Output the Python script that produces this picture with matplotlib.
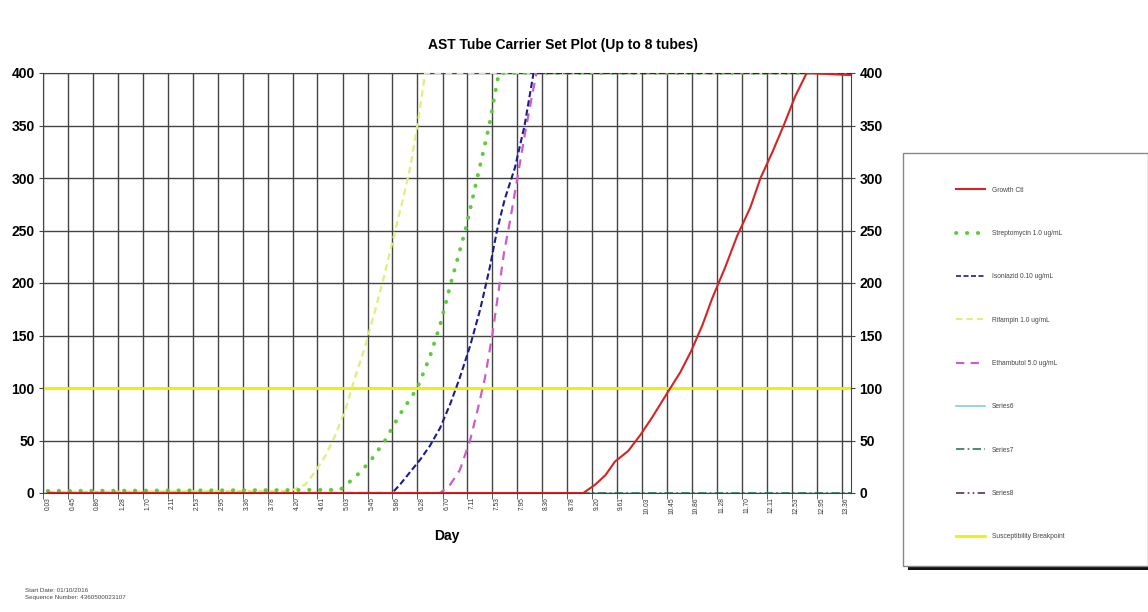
import matplotlib.pyplot as plt
from matplotlib.lines import Line2D
from matplotlib.patches import Rectangle

plt.rcParams['font.family'] = ['Liberation Sans', 'DejaVu Sans']

# x tick labels (days, every 10 hours)
tick_labels = ['0.03', '0.45', '0.86', '1.28', '1.70', '2.11', '2.53', '2.95', '3.36',
               '3.78', '4.20', '4.61', '5.03', '5.45', '5.86', '6.28', '6.70', '7.11',
               '7.53', '7.95', '8.36', '8.78', '9.20', '9.61', '10.03', '10.45', '10.86',
               '11.28', '11.70', '12.11', '12.53', '12.95', '13.36']
tick_vals = [float(s) for s in tick_labels]

# Growth Ctl
gc_day = [0.03, 8.97, 9.17, 9.34, 9.50, 9.72, 9.92, 10.12, 10.37, 10.59, 10.77, 10.96,
          11.12, 11.34, 11.54, 11.76, 11.93, 12.13, 12.33, 12.51, 12.70, 13.44]
gc_val = [0, 0, 8, 17, 30, 40, 55, 72, 95, 115, 135, 160,
          185, 215, 245, 272, 300, 325, 352, 378, 400, 398]

# Streptomycin 1.0 ug/mL
sm_day = [0.03, 4.91, 5.16, 5.41, 5.66, 5.91, 6.20, 6.41, 6.58, 6.76, 7.00, 7.20, 7.40, 7.56, 13.44]
sm_val = [2, 3, 15, 30, 50, 75, 100, 130, 160, 200, 250, 300, 350, 400, 400]

# Isoniazid 0.10 ug/mL
inh_day = [0.03, 5.78, 5.91, 6.08, 6.25, 6.41, 6.58, 6.75, 6.91, 7.08, 7.25, 7.41,
           7.53, 7.66, 7.83, 7.99, 8.14, 13.44]
inh_val = [0, 0, 8, 20, 32, 45, 62, 85, 110, 140, 175, 215,
           250, 280, 310, 350, 400, 400]

# Rifampin 1.0 ug/mL
rif_day = [0.03, 4.08, 4.33, 4.49, 4.66, 4.83, 5.00, 5.16, 5.33, 5.50, 5.66, 5.83,
           5.96, 6.08, 6.20, 6.33, 13.44]
rif_val = [1, 2, 8, 20, 35, 55, 80, 110, 140, 175, 210, 250,
           280, 310, 350, 400, 400]

# Ethambutol 5.0 ug/mL
emb_day = [0.03, 6.58, 6.75, 6.91, 7.08, 7.21, 7.33, 7.45, 7.55, 7.65, 7.75, 7.87,
           7.99, 8.12, 8.19, 13.44]
emb_val = [0, 0, 8, 22, 50, 80, 110, 150, 190, 230, 260, 300,
           340, 380, 400, 400]

# Series7 (flat)
s7_day = [0.03, 13.44]
s7_val = [0, 0]

breakpoint_val = 100

fig = plt.figure(figsize=(11.48, 6.12), dpi=100)
ax = fig.add_axes([43/1148, 1-493/612, 808/1148, 420/612])

ax.plot(s7_day, s7_val, color='#2a7a5a', lw=1.2, ls=(0, (5, 2, 1, 2)), zorder=2)
ax.axhline(breakpoint_val, color='#f0f000', lw=2, zorder=2)
ax.plot(rif_day, rif_val, color='#dcf07a', lw=1.6, ls=(0, (3, 2)), zorder=3)
ax.plot(sm_day, sm_val, color='#5ccc3a', lw=2.8, ls=(0, (0.1, 2.7)),
        dash_capstyle='round', zorder=3)
ax.plot(emb_day, emb_val, color='#cc5ccc', lw=1.6, ls=(0, (4, 3)), zorder=3)
ax.plot(inh_day, inh_val, color='#1c1c90', lw=1.5, ls=(0, (3, 1.5)), zorder=4)
ax.plot(gc_day, gc_val, color='#d42424', lw=1.5, zorder=5)

ax.set_xlim(-0.05, 13.44)
ax.set_ylim(0, 400)

ax.set_xticks(tick_vals)
ax.set_xticklabels(tick_labels, rotation=90, fontsize=4.8, color='#333333')
ax.set_xticks([v - 0.078 for v in tick_vals], minor=True)
ax.tick_params(axis='x', which='major', length=0, pad=3)
ax.tick_params(axis='x', which='minor', length=4, direction='out', color='#444444')
ax.grid(which='minor', axis='x', color='#444444', lw=1)

ax.set_yticks(range(0, 401, 50))
ax.grid(which='major', axis='y', color='#444444', lw=1)
ax.tick_params(axis='y', length=3, labelsize=10, right=True, labelright=True, pad=3,
               color='#444444')
for t in ax.yaxis.get_major_ticks():
    t.label1.set_fontweight('bold')
    t.label2.set_fontweight('bold')
ax.set_axisbelow(True)
for sp in ax.spines.values():
    sp.set_color('#444444')

ax.set_xlabel('Day', fontsize=10, fontweight='bold', labelpad=11)
fig.text(563/1148, 1-45/612, 'AST Tube Carrier Set Plot (Up to 8 tubes)',
         ha='center', va='center', fontsize=10, fontweight='bold')

fig.text(25/1148, 1-590/612, 'Start Date: 01/10/2016', fontsize=4.5, color='#444444', va='center')
fig.text(25/1148, 1-597/612, 'Sequence Number: 4360500023107', fontsize=4.5, color='#444444', va='center')

# legend box
shadow = Rectangle((908/1148, 1-570/612), (1148-908)/1148, (570-160)/612,
                   transform=fig.transFigure, facecolor='#111111', edgecolor='none', zorder=0)
box = Rectangle((903/1148, 1-566/612), (1148-903)/1148, (566-153)/612,
                transform=fig.transFigure, facecolor='white', edgecolor='#888888', lw=1, zorder=1)
fig.patches.extend([shadow, box])

handles = [
    Line2D([], [], color='#d42424', lw=1.5),
    Line2D([], [], color='#5ccc3a', lw=2.8, ls=(0, (0.1, 2.7)), dash_capstyle='round'),
    Line2D([], [], color='#1c1c90', lw=1.2, ls=(0, (3, 1.5))),
    Line2D([], [], color='#dcf07a', lw=1.5, ls=(0, (3, 2))),
    Line2D([], [], color='#cc5ccc', lw=1.5, ls=(0, (4, 3))),
    Line2D([], [], color='#7ccfe8', lw=1.2),
    Line2D([], [], color='#2a7a5a', lw=1.2, ls=(0, (5, 2, 1, 2))),
    Line2D([], [], color='#553355', lw=1.2, ls=(0, (5, 2, 1, 2, 1, 2))),
    Line2D([], [], color='#f0f000', lw=2),
]
labels = ['Growth Ctl', 'Streptomycin 1.0 ug/mL', 'Isoniazid 0.10 ug/mL',
          'Rifampin 1.0 ug/mL', 'Ethambutol 5.0 ug/mL', 'Series6', 'Series7',
          'Series8', 'Susceptibility Breakpoint']
leg = fig.legend(handles, labels, loc='upper left', bbox_to_anchor=(953/1148, 1-184/612),
                 frameon=False, fontsize=4.8, labelspacing=5.45, handlelength=4.4,
                 handletextpad=1.0, borderaxespad=0)
for t in leg.get_texts():
    t.set_color('#444444')
leg.set_zorder(3)

fig.savefig('out.png', dpi=100)
